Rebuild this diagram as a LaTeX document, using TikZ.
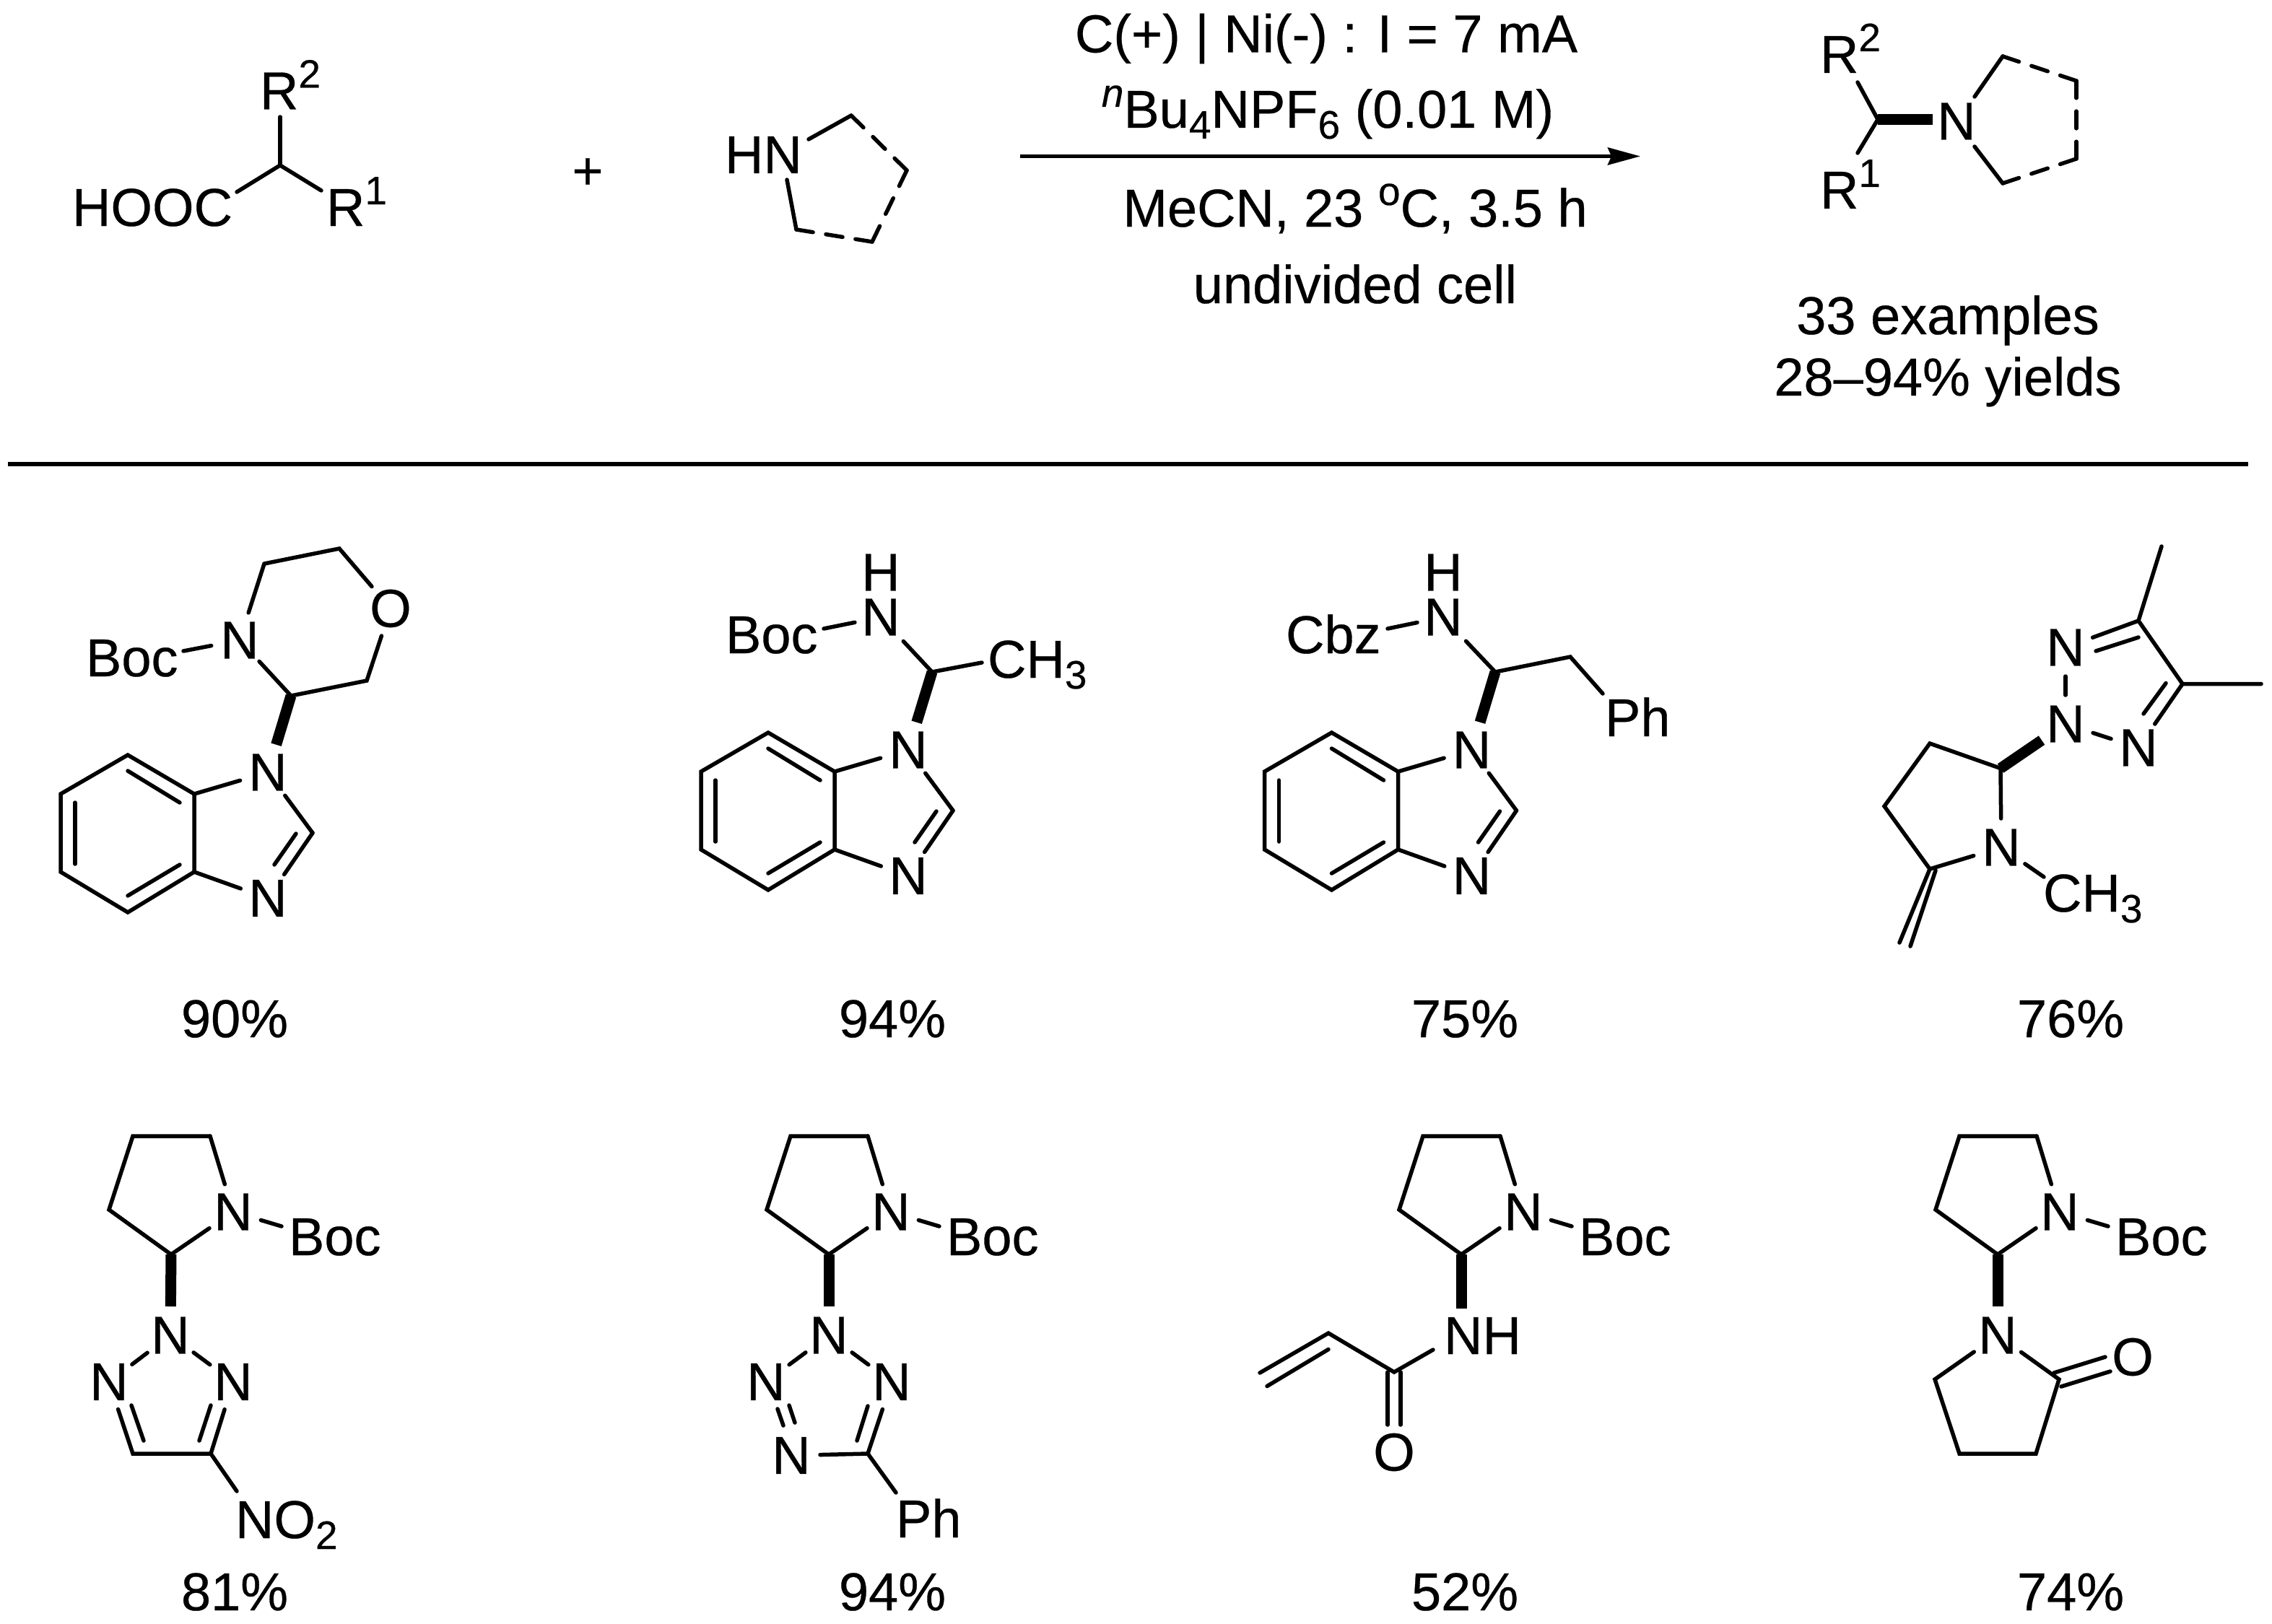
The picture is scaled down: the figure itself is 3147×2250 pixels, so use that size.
\documentclass[tikz,border=0pt]{standalone}
\usepackage{fontspec}
\setmainfont[FakeBold=0.4]{Liberation Sans}
\usetikzlibrary{calc,arrows.meta}
\newcommand{\fsmain}{\fontsize{74}{84}\selectfont}
\newcommand{\fssmall}{\fontsize{55}{60}\selectfont}
\newcommand{\sups}[1]{\raisebox{30pt}{\fssmall #1}}
\newcommand{\subs}[1]{\raisebox{-15pt}{\fssmall #1}}
\tikzset{
  bond/.style={line width=5.5pt,line cap=round,line join=miter},
  boldbond/.style={line width=15pt,line cap=butt},
  txt/.style={inner sep=0pt,outer sep=0pt,font=\fsmain,text=black},
  atom/.style={txt,circle,minimum size=80pt},
  atomsmall/.style={txt,circle,minimum size=68pt},
  label/.style={txt,anchor=base west},
  yield/.style={txt,anchor=base},
  rule/.style={line width=6pt},
  rxnarrow/.style={line width=5pt,-{Stealth[length=45pt,width=24pt,inset=5pt]}}
}
\newcommand{\dashbond}[2]{%
  \draw[bond] (#1) -- ($(#1)!0.22!(#2)$);
  \draw[bond] ($(#1)!0.39!(#2)$) -- ($(#1)!0.61!(#2)$);
  \draw[bond] ($(#1)!0.78!(#2)$) -- (#2);}
% benzimidazole unit
\newcommand{\benzim}[3]{%
  \begin{scope}[shift={(#2,#3)},name prefix=#1]
    \node[atom] (N1) at (371,1070) {N};
    \node[atom] (N3) at (371,1244.5) {N};
    \coordinate (c7a) at (269,1100);
    \coordinate (c3a) at (269,1208);
    \coordinate (c2) at (433,1154);
    \coordinate (t) at (177,1046);
    \coordinate (lt) at (84,1100);
    \coordinate (lb) at (84,1208);
    \coordinate (b) at (177,1264);
    \coordinate (i1) at (177,1068);
    \coordinate (i2) at (249,1112);
    \coordinate (i3) at (104,1112);
    \coordinate (i4) at (104,1197);
    \coordinate (i5) at (177,1241);
    \coordinate (i6) at (249,1198);
    \coordinate (i7) at (410,1155);
    \coordinate (i8) at (380,1198);
    \draw[bond] (c7a) -- (t) -- (lt) -- (lb) -- (b) -- (c3a) -- cycle;
    \draw[bond] (i1) -- (i2);
    \draw[bond] (i3) -- (i4);
    \draw[bond] (i5) -- (i6);
    \draw[bond] (i7) -- (i8);
    \draw[bond] (N1) -- (c7a);
    \draw[bond] (N1) -- (c2);
    \draw[bond] (c2) -- (N3);
    \draw[bond] (c3a) -- (N3);
  \end{scope}}
% N-Boc pyrrolidine unit
\newcommand{\pyrboc}[2]{%
  \begin{scope}[shift={(#2,0)},name prefix=#1]
    \node[atom] (N) at (323,1679) {N};
    \node[label] (boc) at (400,1739) {Boc};
    \coordinate (tl) at (184,1574);
    \coordinate (tr) at (291,1574);
    \coordinate (l) at (151,1676);
    \coordinate (c2) at (237,1738);
    \coordinate (be) at (390,1699);
    \draw[bond] (N) -- (tr);
    \draw[bond] (tr) -- (tl) -- (l) -- (c2);
    \draw[bond] (c2) -- (N);
    \draw[bond] (N) -- (be);
  \end{scope}}
\begin{document}
\begin{tikzpicture}[x=1pt,y=-1pt]
\useasboundingbox (0,0) rectangle (3147,2250);

% --- Acid
\node[label] (hooc) at (100,313) {HOOC};
\node[label] (ar2) at (360,151.5) {R\sups{2}};
\node[label] (ar1) at (452,313) {R\sups{1}};
\coordinate (ac) at (388,229);
\coordinate (ae2) at (388,162);
\coordinate (ael) at (328,266);
\coordinate (aer) at (445,264);
\draw[bond] (ac) -- (ae2);
\draw[bond] (ael) -- (ac) -- (aer);

\node[yield] (plus) at (814,262) {+};

% --- Amine
\node[label] (amhn) at (1004,240) {HN};
\coordinate (h1) at (1120,193);
\coordinate (h2) at (1179,160);
\coordinate (h3) at (1256,236);
\coordinate (h4) at (1208,335);
\coordinate (h5) at (1103,318);
\coordinate (h6) at (1090,249);
\draw[bond] (h1) -- (h2);
\dashbond{h2}{h3}
\dashbond{h3}{h4}
\dashbond{h4}{h5}
\draw[bond] (h5) -- (h6);

% --- Arrow and conditions
\coordinate (arrs) at (1413,216.5);
\coordinate (arre) at (2272,216.5);
\draw[rxnarrow] (arrs) -- (arre);
\node[yield] (cond1) at (1837,72.5) {C(+) | Ni(-) : I = 7 mA};
\node[yield] (cond2) at (1839,177) {\raisebox{29pt}{\fssmall\itshape n}Bu\subs{4}NPF\subs{6} (0.01 M)};
\node[yield] (cond3) at (1877,314) {MeCN, 23 \sups{o}C, 3.5 h};
\node[yield] (cond4) at (1877,420) {undivided cell};

% --- Product
\node[label] (pr2) at (2521,101) {R\sups{2}};
\node[label] (pr1) at (2521,289) {R\sups{1}};
\node[atom] (pn) at (2710,168) {N};
\coordinate (pc) at (2601,165.5);
\coordinate (pe2) at (2573,114);
\coordinate (pe1) at (2573,212);
\coordinate (pbe) at (2677,165.5);
\coordinate (p1) at (2735,134);
\coordinate (p2) at (2774,78);
\coordinate (p3) at (2876,112);
\coordinate (p4) at (2876,220);
\coordinate (p5) at (2774,254);
\coordinate (p6) at (2735,203);
\draw[bond] (pe2) -- (pc) -- (pe1);
\draw[boldbond] (pc) -- (pbe);
\draw[bond] (p1) -- (p2);
\dashbond{p2}{p3}
\dashbond{p3}{p4}
\dashbond{p4}{p5}
\draw[bond] (p5) -- (p6);
\node[yield] (ex) at (2698,463) {33 examples};
\node[yield] (yl) at (2698,548) {28–94\% yields};

% --- Rule
\coordinate (r1) at (11,642.5);
\coordinate (r2) at (3114,642.5);
\draw[rule] (r1) -- (r2);

% --- Compound 1
\benzim{a}{0}{0}
\node[atom] (an) at (332,887) {N};
\node[atom] (ao) at (541,843) {O};
\node[label] (aboc) at (119,937) {Boc};
\coordinate (a1) at (366,781);
\coordinate (a2) at (470,760);
\coordinate (a3) at (508,943);
\coordinate (a4) at (403,964);
\coordinate (ab) at (254,902);
\draw[bond] (an) -- (ab);
\draw[bond] (an) -- (a1);
\draw[bond] (a1) -- (a2) -- (ao);
\draw[bond] (ao) -- (a3) -- (a4) -- (an);
\draw[boldbond] (a4) -- (aN1);
\node[yield] (y1) at (325,1437) {90\%};

% --- Compound 2
\benzim{b}{887}{-31}
\node[atomsmall] (bn) at (1220,855) {N};
\node[txt] (bh) at (1220,793) {H};
\node[label] (bboc) at (1005,905) {Boc};
\node[label] (bch) at (1368,939) {CH\subs{3}};
\coordinate (b1) at (1291,931);
\coordinate (b2) at (1360,918);
\coordinate (b3) at (1141,871);
\draw[bond] (bn) -- (b3);
\draw[bond,shorten <=9pt] (bn) -- (b1);
\draw[bond] (b1) -- (b2);
\draw[boldbond] (b1) -- (bN1);
\node[yield] (y2) at (1236,1437) {94\%};

% --- Compound 3
\benzim{c}{1667.5}{-31}
\node[atomsmall] (cn) at (1999,855) {N};
\node[txt] (ch) at (1999,793) {H};
\node[label] (ccbz) at (1781,905) {Cbz};
\node[label] (cph) at (2223,1020) {Ph};
\coordinate (c1) at (2071,931);
\coordinate (c2x) at (2175,910);
\coordinate (c3x) at (2220,961);
\coordinate (c4x) at (1922,871);
\draw[bond] (cn) -- (c4x);
\draw[bond,shorten <=9pt] (cn) -- (c1);
\draw[bond] (c1) -- (c2x) -- (c3x);
\draw[boldbond] (c1) -- (cN1);
\node[yield] (y3) at (2029,1437) {75\%};

% --- Compound 4
\node[atom] (dn1) at (2861,897) {N};
\node[atom] (dn2) at (2861,1003) {N};
\node[atom] (dn3) at (2962,1036) {N};
\node[atom] (dn) at (2772,1174) {N};
\node[label] (dch) at (2830,1263) {CH\subs{3}};
\coordinate (dc4) at (2962,860);
\coordinate (dc5) at (3023,947.5);
\coordinate (dm1) at (2994,757);
\coordinate (dm2) at (3132,947.5);
\coordinate (di1) at (2903,902);
\coordinate (di2) at (2962,883);
\coordinate (di3) at (3000,946.5);
\coordinate (di4) at (2969,989);
\coordinate (dp2) at (2771,1064.5);
\coordinate (dp3) at (2673,1030);
\coordinate (dp4) at (2610,1117);
\coordinate (dp5) at (2673,1204);
\coordinate (dv1) at (2631,1306);
\coordinate (dv2) at (2681,1206);
\coordinate (dv3) at (2646,1311);
\coordinate (dme) at (2831,1215);
\draw[bond] (dm1) -- (dc4) -- (dc5) -- (dm2);
\draw[bond] (dc4) -- (dn1);
\draw[bond] (di1) -- (di2);
\draw[bond] (dc5) -- (dn3);
\draw[bond] (di3) -- (di4);
\draw[bond] (dn1) -- (dn2);
\draw[bond] (dn2) -- (dn3);
\draw[boldbond] (dp2) -- (dn2);
\draw[bond] (dn) -- (dp2) -- (dp3) -- (dp4) -- (dp5) -- (dn);
\draw[bond] (dp5) -- (dv1);
\draw[bond] (dv2) -- (dv3);
\draw[bond] (dn) -- (dme);
\node[yield] (y4) at (2868,1437) {76\%};

% --- Compound 5
\pyrboc{e}{0}
\node[atom] (en1) at (236,1850) {N};
\node[atom] (en2) at (151,1914.5) {N};
\node[atom] (en3) at (323,1914.5) {N};
\node[label] (eno) at (326,2131) {NO\subs{2}};
\coordinate (ec4) at (184,2014);
\coordinate (ec5) at (292,2014);
\coordinate (ee) at (328,2066);
\coordinate (ei1) at (182,1947);
\coordinate (ei2) at (199,1996);
\coordinate (ei3) at (292,1947);
\coordinate (ei4) at (276,1996);
\draw[boldbond] (ec2) -- (en1);
\draw[bond] (en1) -- (en2);
\draw[bond] (en1) -- (en3);
\draw[bond] (en2) -- (ec4) -- (ec5) -- (en3);
\draw[bond] (ei1) -- (ei2);
\draw[bond] (ei3) -- (ei4);
\draw[bond] (ec5) -- (ee);
\node[yield] (y5) at (325,2231) {81\%};

% --- Compound 6
\pyrboc{f}{911}
\node[atom] (fn1) at (1148,1850) {N};
\node[atom] (fn2) at (1061,1914.5) {N};
\node[atom] (fn3) at (1235,1914.5) {N};
\node[atom] (fn4) at (1096,2016.5) {N};
\node[label] (fph) at (1241,2130) {Ph};
\coordinate (fc) at (1202,2014);
\coordinate (fe) at (1241,2068);
\coordinate (fi1) at (1077,1952);
\coordinate (fi2) at (1085,1975);
\coordinate (fi3) at (1093,1947);
\coordinate (fi4) at (1101,1971);
\coordinate (fi5) at (1202,1948);
\coordinate (fi6) at (1187,1996);
\draw[boldbond] (fc2) -- (fn1);
\draw[bond] (fn1) -- (fn2);
\draw[bond] (fn1) -- (fn3);
\draw[bond] (fn3) -- (fc);
\draw[bond] (fc) -- (fn4);
\draw[bond] (fc) -- (fe);
\draw[bond] (fi1) -- (fi2);
\draw[bond] (fi3) -- (fi4);
\draw[bond] (fi5) -- (fi6);
\node[yield] (y6) at (1236,2231) {94\%};

% --- Compound 7
\pyrboc{g}{1787}
\node[label] (gnh) at (2000,1876) {NH};
\node[atom] (go) at (1931,2012) {O};
\coordinate (ge1) at (2024,1813);
\coordinate (ge2) at (1985,1870);
\coordinate (gco) at (1931,1901);
\coordinate (gv1) at (1840,1847);
\coordinate (gv2) at (1745,1902);
\coordinate (gi1) at (1840,1869.5);
\coordinate (gi2) at (1755,1920.5);
\coordinate (go1) at (1922,1901);
\coordinate (go2) at (1922,1974);
\coordinate (go3) at (1940,1901);
\coordinate (go4) at (1940,1974);
\draw[boldbond] (gc2) -- (ge1);
\draw[bond] (ge2) -- (gco) -- (gv1) -- (gv2);
\draw[bond] (gi1) -- (gi2);
\draw[bond] (go1) -- (go2);
\draw[bond] (go3) -- (go4);
\node[yield] (y7) at (2029,2231) {52\%};

% --- Compound 8
\pyrboc{h}{2530}
\node[atom] (hn1) at (2767,1850) {N};
\node[atom] (ho) at (2954,1880) {O};
\coordinate (lc1) at (2680,1911);
\coordinate (lc2) at (2714,2014);
\coordinate (lc3) at (2820,2014);
\coordinate (lc4) at (2852,1911);
\coordinate (hi1) at (2845,1902);
\coordinate (hi2) at (2916,1880);
\coordinate (hi3) at (2855,1921);
\coordinate (hi4) at (2923,1900);
\draw[boldbond] (hc2) -- (hn1);
\draw[bond] (hn1) -- (lc1) -- (lc2) -- (lc3) -- (lc4) -- (hn1);
\draw[bond] (hi1) -- (hi2);
\draw[bond] (hi3) -- (hi4);
\node[yield] (y8) at (2868,2231) {74\%};
\end{tikzpicture}
\end{document}
